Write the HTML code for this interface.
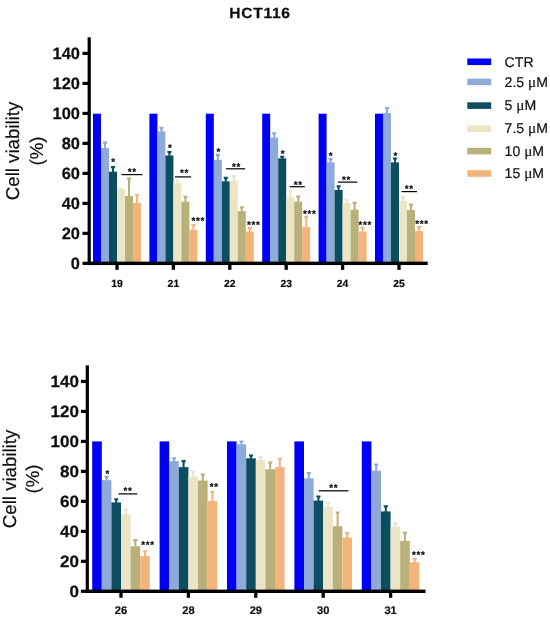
<!DOCTYPE html>
<html><head><meta charset="utf-8"><title>HCT116</title>
<style>
html,body{margin:0;padding:0;background:#fff;}
body{width:550px;height:619px;overflow:hidden;}
svg{display:block;font-family:"Liberation Sans",sans-serif;fill:#111;text-rendering:geometricPrecision;}
</style></head><body>
<svg width="550" height="619" viewBox="0 0 550 619">
<defs><filter id="soft" x="0" y="0" width="550" height="619" filterUnits="userSpaceOnUse"><feGaussianBlur stdDeviation="0.38"/></filter></defs>
<rect width="550" height="619" fill="#fff"/>
<g filter="url(#soft)">
<rect x="93.00" y="113.70" width="8.00" height="149.65" fill="#0600f7"/>
<path d="M104.00 148.54V144.42L102.90 142.92V141.62H107.10V142.92L106.00 144.42V148.54Z" fill="#8eaad9"/>
<rect x="101.00" y="148.04" width="8.00" height="115.31" fill="#8eaad9"/>
<path d="M112.00 172.13V168.90L110.90 167.40V166.10H115.10V167.40L114.00 168.90V172.13Z" fill="#0c4e60"/>
<rect x="109.00" y="171.63" width="8.00" height="91.72" fill="#0c4e60"/>
<path d="M120.00 189.74V190.85L118.90 189.35V188.05H123.10V189.35L122.00 190.85V189.74Z" fill="#ebe5c6"/>
<rect x="117.00" y="189.24" width="8.00" height="74.11" fill="#ebe5c6"/>
<path d="M128.00 196.46V180.40L126.90 178.90V177.60H131.10V178.90L130.00 180.40V196.46Z" fill="#bab07a"/>
<rect x="125.00" y="195.96" width="8.00" height="67.39" fill="#bab07a"/>
<path d="M136.00 203.48V196.82L134.90 195.32V194.02H139.10V195.32L138.00 196.82V203.48Z" fill="#f3b47c"/>
<rect x="133.00" y="202.98" width="8.00" height="60.37" fill="#f3b47c"/>
<rect x="115.35" y="263.35" width="3.3" height="6.5" fill="#000"/>
<text x="117.00" y="286.55" text-anchor="middle" font-size="10.4" font-weight="bold" stroke="#111" stroke-width="0.2">19</text>
<rect x="149.40" y="113.70" width="8.00" height="149.65" fill="#0600f7"/>
<path d="M160.40 131.82V129.64L159.30 128.14V126.84H163.50V128.14L162.40 129.64V131.82Z" fill="#8eaad9"/>
<rect x="157.40" y="131.32" width="8.00" height="132.03" fill="#8eaad9"/>
<path d="M168.40 156.00V153.82L167.30 152.32V151.02H171.50V152.32L170.40 153.82V156.00Z" fill="#0c4e60"/>
<rect x="165.40" y="155.50" width="8.00" height="107.85" fill="#0c4e60"/>
<path d="M176.40 183.47V182.34L175.30 180.84V179.54H179.50V180.84L178.40 182.34V183.47Z" fill="#ebe5c6"/>
<rect x="173.40" y="182.97" width="8.00" height="80.38" fill="#ebe5c6"/>
<path d="M184.40 202.14V198.46L183.30 196.96V195.66H187.50V196.96L186.40 198.46V202.14Z" fill="#bab07a"/>
<rect x="181.40" y="201.64" width="8.00" height="61.71" fill="#bab07a"/>
<path d="M192.40 230.35V226.68L191.30 225.18V223.88H195.50V225.18L194.40 226.68V230.35Z" fill="#f3b47c"/>
<rect x="189.40" y="229.85" width="8.00" height="33.50" fill="#f3b47c"/>
<rect x="171.75" y="263.35" width="3.3" height="6.5" fill="#000"/>
<text x="173.40" y="286.55" text-anchor="middle" font-size="10.4" font-weight="bold" stroke="#111" stroke-width="0.2">21</text>
<rect x="205.80" y="113.70" width="8.00" height="149.65" fill="#0600f7"/>
<path d="M216.80 160.33V156.66L215.70 155.16V153.86H219.90V155.16L218.80 156.66V160.33Z" fill="#8eaad9"/>
<rect x="213.80" y="159.83" width="8.00" height="103.52" fill="#8eaad9"/>
<path d="M224.80 181.83V179.65L223.70 178.15V176.85H227.90V178.15L226.80 179.65V181.83Z" fill="#0c4e60"/>
<rect x="221.80" y="181.33" width="8.00" height="82.02" fill="#0c4e60"/>
<path d="M232.80 181.38V177.71L231.70 176.21V174.91H235.90V176.21L234.80 177.71V181.38Z" fill="#ebe5c6"/>
<rect x="229.80" y="180.88" width="8.00" height="82.47" fill="#ebe5c6"/>
<path d="M240.80 211.69V209.06L239.70 207.56V206.26H243.90V207.56L242.80 209.06V211.69Z" fill="#bab07a"/>
<rect x="237.80" y="211.19" width="8.00" height="52.16" fill="#bab07a"/>
<path d="M248.80 232.00V229.82L247.70 228.32V227.02H251.90V228.32L250.80 229.82V232.00Z" fill="#f3b47c"/>
<rect x="245.80" y="231.50" width="8.00" height="31.85" fill="#f3b47c"/>
<rect x="228.15" y="263.35" width="3.3" height="6.5" fill="#000"/>
<text x="229.80" y="286.55" text-anchor="middle" font-size="10.4" font-weight="bold" stroke="#111" stroke-width="0.2">22</text>
<rect x="262.20" y="113.70" width="8.00" height="149.65" fill="#0600f7"/>
<path d="M273.20 138.09V135.01L272.10 133.51V132.21H276.30V133.51L275.20 135.01V138.09Z" fill="#8eaad9"/>
<rect x="270.20" y="137.59" width="8.00" height="125.76" fill="#8eaad9"/>
<path d="M281.20 158.84V158.45L280.10 156.95V155.65H284.30V156.95L283.20 158.45V158.84Z" fill="#0c4e60"/>
<rect x="278.20" y="158.34" width="8.00" height="105.01" fill="#0c4e60"/>
<path d="M289.20 197.66V192.19L288.10 190.69V189.39H292.30V190.69L291.20 192.19V197.66Z" fill="#ebe5c6"/>
<rect x="286.20" y="197.16" width="8.00" height="66.19" fill="#ebe5c6"/>
<path d="M297.20 202.14V198.31L296.10 196.81V195.51H300.30V196.81L299.20 198.31V202.14Z" fill="#bab07a"/>
<rect x="294.20" y="201.64" width="8.00" height="61.71" fill="#bab07a"/>
<path d="M305.20 227.67V218.62L304.10 217.12V215.82H308.30V217.12L307.20 218.62V227.67Z" fill="#f3b47c"/>
<rect x="302.20" y="227.17" width="8.00" height="36.18" fill="#f3b47c"/>
<rect x="284.55" y="263.35" width="3.3" height="6.5" fill="#000"/>
<text x="286.20" y="286.55" text-anchor="middle" font-size="10.4" font-weight="bold" stroke="#111" stroke-width="0.2">23</text>
<rect x="318.60" y="113.70" width="8.00" height="149.65" fill="#0600f7"/>
<path d="M329.60 162.87V160.69L328.50 159.19V157.89H332.70V159.19L331.60 160.69V162.87Z" fill="#8eaad9"/>
<rect x="326.60" y="162.37" width="8.00" height="100.98" fill="#8eaad9"/>
<path d="M337.60 190.49V188.01L336.50 186.51V185.21H340.70V186.51L339.60 188.01V190.49Z" fill="#0c4e60"/>
<rect x="334.60" y="189.99" width="8.00" height="73.36" fill="#0c4e60"/>
<path d="M345.60 203.63V201.45L344.50 199.95V198.65H348.70V199.95L347.60 201.45V203.63Z" fill="#ebe5c6"/>
<rect x="342.60" y="203.13" width="8.00" height="60.22" fill="#ebe5c6"/>
<path d="M353.60 210.20V204.44L352.50 202.94V201.64H356.70V202.94L355.60 204.44V210.20Z" fill="#bab07a"/>
<rect x="350.60" y="209.70" width="8.00" height="53.65" fill="#bab07a"/>
<path d="M361.60 232.00V229.52L360.50 228.02V226.72H364.70V228.02L363.60 229.52V232.00Z" fill="#f3b47c"/>
<rect x="358.60" y="231.50" width="8.00" height="31.85" fill="#f3b47c"/>
<rect x="340.95" y="263.35" width="3.3" height="6.5" fill="#000"/>
<text x="342.60" y="286.55" text-anchor="middle" font-size="10.4" font-weight="bold" stroke="#111" stroke-width="0.2">24</text>
<rect x="375.00" y="113.70" width="8.00" height="149.65" fill="#0600f7"/>
<path d="M386.00 113.45V109.78L384.90 108.28V106.98H389.10V108.28L388.00 109.78V113.45Z" fill="#8eaad9"/>
<rect x="383.00" y="112.95" width="8.00" height="150.40" fill="#8eaad9"/>
<path d="M394.00 162.87V160.24L392.90 158.74V157.44H397.10V158.74L396.00 160.24V162.87Z" fill="#0c4e60"/>
<rect x="391.00" y="162.37" width="8.00" height="100.98" fill="#0c4e60"/>
<path d="M402.00 201.54V198.91L400.90 197.41V196.11H405.10V197.41L404.00 198.91V201.54Z" fill="#ebe5c6"/>
<rect x="399.00" y="201.04" width="8.00" height="62.31" fill="#ebe5c6"/>
<path d="M410.00 210.50V206.23L408.90 204.73V203.43H413.10V204.73L412.00 206.23V210.50Z" fill="#bab07a"/>
<rect x="407.00" y="210.00" width="8.00" height="53.35" fill="#bab07a"/>
<path d="M418.00 231.55V228.92L416.90 227.42V226.12H421.10V227.42L420.00 228.92V231.55Z" fill="#f3b47c"/>
<rect x="415.00" y="231.05" width="8.00" height="32.30" fill="#f3b47c"/>
<rect x="397.35" y="263.35" width="3.3" height="6.5" fill="#000"/>
<text x="399.00" y="286.55" text-anchor="middle" font-size="10.4" font-weight="bold" stroke="#111" stroke-width="0.2">25</text>
<rect x="87.60" y="37.30" width="3.2" height="227.75" fill="#000"/>
<rect x="87.80" y="261.65" width="339.90" height="3.4" fill="#000"/>
<rect x="82.50" y="261.75" width="6.7" height="3.2" fill="#000"/>
<text transform="translate(79.90 268.75) scale(1.0 1)" text-anchor="end" font-size="16.4" font-weight="bold" stroke="#111" stroke-width="0.25">0</text>
<rect x="82.50" y="231.76" width="6.7" height="3.2" fill="#000"/>
<text transform="translate(79.90 238.76) scale(1.0 1)" text-anchor="end" font-size="16.4" font-weight="bold" stroke="#111" stroke-width="0.25">20</text>
<rect x="82.50" y="201.77" width="6.7" height="3.2" fill="#000"/>
<text transform="translate(79.90 208.77) scale(1.0 1)" text-anchor="end" font-size="16.4" font-weight="bold" stroke="#111" stroke-width="0.25">40</text>
<rect x="82.50" y="171.78" width="6.7" height="3.2" fill="#000"/>
<text transform="translate(79.90 178.78) scale(1.0 1)" text-anchor="end" font-size="16.4" font-weight="bold" stroke="#111" stroke-width="0.25">60</text>
<rect x="82.50" y="141.79" width="6.7" height="3.2" fill="#000"/>
<text transform="translate(79.90 148.79) scale(1.0 1)" text-anchor="end" font-size="16.4" font-weight="bold" stroke="#111" stroke-width="0.25">80</text>
<rect x="82.50" y="111.80" width="6.7" height="3.2" fill="#000"/>
<text transform="translate(79.90 118.80) scale(1.0 1)" text-anchor="end" font-size="16.4" font-weight="bold" stroke="#111" stroke-width="0.25">100</text>
<rect x="82.50" y="81.81" width="6.7" height="3.2" fill="#000"/>
<text transform="translate(79.90 88.81) scale(1.0 1)" text-anchor="end" font-size="16.4" font-weight="bold" stroke="#111" stroke-width="0.25">120</text>
<rect x="82.50" y="51.82" width="6.7" height="3.2" fill="#000"/>
<text transform="translate(79.90 58.82) scale(1.0 1)" text-anchor="end" font-size="16.4" font-weight="bold" stroke="#111" stroke-width="0.25">140</text>
<text transform="translate(18.5 150.97) rotate(-90)" text-anchor="middle" font-size="18.65" stroke="#111" stroke-width="0.2">Cell viability</text>
<text transform="translate(43.0 150.97) rotate(-90)" text-anchor="middle" font-size="18.65" stroke="#111" stroke-width="0.2">(%)</text>
<rect x="92.20" y="441.40" width="9.60" height="149.90" fill="#0600f7"/>
<path d="M105.60 480.65V478.61L104.50 477.11V475.81H108.70V477.11L107.60 478.61V480.65Z" fill="#8eaad9"/>
<rect x="101.80" y="480.15" width="9.60" height="111.15" fill="#8eaad9"/>
<path d="M115.20 502.94V501.05L114.10 499.55V498.25H118.30V499.55L117.20 501.05V502.94Z" fill="#0c4e60"/>
<rect x="111.40" y="502.44" width="9.60" height="88.86" fill="#0c4e60"/>
<path d="M124.80 514.46V511.67L123.70 510.17V508.87H127.90V510.17L126.80 511.67V514.46Z" fill="#ebe5c6"/>
<rect x="121.00" y="513.96" width="9.60" height="77.34" fill="#ebe5c6"/>
<path d="M134.40 546.77V541.89L133.30 540.39V539.09H137.50V540.39L136.40 541.89V546.77Z" fill="#bab07a"/>
<rect x="130.60" y="546.27" width="9.60" height="45.03" fill="#bab07a"/>
<path d="M144.00 556.64V552.96L142.90 551.46V550.16H147.10V551.46L146.00 552.96V556.64Z" fill="#f3b47c"/>
<rect x="140.20" y="556.14" width="9.60" height="35.16" fill="#f3b47c"/>
<rect x="119.35" y="591.30" width="3.3" height="6.5" fill="#000"/>
<text x="121.00" y="614.30" text-anchor="middle" font-size="11.1" font-weight="bold" stroke="#111" stroke-width="0.2">26</text>
<rect x="159.60" y="441.40" width="9.60" height="149.90" fill="#0600f7"/>
<path d="M173.00 461.65V460.06L171.90 458.56V457.26H176.10V458.56L175.00 460.06V461.65Z" fill="#8eaad9"/>
<rect x="169.20" y="461.15" width="9.60" height="130.15" fill="#8eaad9"/>
<path d="M182.60 467.63V462.90L181.50 461.40V460.10H185.70V461.40L184.60 462.90V467.63Z" fill="#0c4e60"/>
<rect x="178.80" y="467.13" width="9.60" height="124.17" fill="#0c4e60"/>
<path d="M192.20 477.06V473.37L191.10 471.87V470.57H195.30V471.87L194.20 473.37V477.06Z" fill="#ebe5c6"/>
<rect x="188.40" y="476.56" width="9.60" height="114.74" fill="#ebe5c6"/>
<path d="M201.80 481.10V476.36L200.70 474.86V473.56H204.90V474.86L203.80 476.36V481.10Z" fill="#bab07a"/>
<rect x="198.00" y="480.60" width="9.60" height="110.70" fill="#bab07a"/>
<path d="M211.40 501.44V493.87L210.30 492.37V491.07H214.50V492.37L213.40 493.87V501.44Z" fill="#f3b47c"/>
<rect x="207.60" y="500.94" width="9.60" height="90.36" fill="#f3b47c"/>
<rect x="186.75" y="591.30" width="3.3" height="6.5" fill="#000"/>
<text x="188.40" y="614.30" text-anchor="middle" font-size="11.1" font-weight="bold" stroke="#111" stroke-width="0.2">28</text>
<rect x="227.00" y="441.40" width="9.60" height="149.90" fill="#0600f7"/>
<path d="M240.40 444.74V443.30L239.30 441.80V440.50H243.50V441.80L242.40 443.30V444.74Z" fill="#8eaad9"/>
<rect x="236.60" y="444.24" width="9.60" height="147.06" fill="#8eaad9"/>
<path d="M250.00 458.80V457.36L248.90 455.86V454.56H253.10V455.86L252.00 457.36V458.80Z" fill="#0c4e60"/>
<rect x="246.20" y="458.30" width="9.60" height="133.00" fill="#0c4e60"/>
<path d="M259.60 460.60V459.01L258.50 457.51V456.21H262.70V457.51L261.60 459.01V460.60Z" fill="#ebe5c6"/>
<rect x="255.80" y="460.10" width="9.60" height="131.20" fill="#ebe5c6"/>
<path d="M269.20 469.73V464.40L268.10 462.90V461.60H272.30V462.90L271.20 464.40V469.73Z" fill="#bab07a"/>
<rect x="265.40" y="469.23" width="9.60" height="122.07" fill="#bab07a"/>
<path d="M278.80 467.63V460.51L277.70 459.01V457.71H281.90V459.01L280.80 460.51V467.63Z" fill="#f3b47c"/>
<rect x="275.00" y="467.13" width="9.60" height="124.17" fill="#f3b47c"/>
<rect x="254.15" y="591.30" width="3.3" height="6.5" fill="#000"/>
<text x="255.80" y="614.30" text-anchor="middle" font-size="11.1" font-weight="bold" stroke="#111" stroke-width="0.2">29</text>
<rect x="294.40" y="441.40" width="9.60" height="149.90" fill="#0600f7"/>
<path d="M307.80 478.85V474.87L306.70 473.37V472.07H310.90V473.37L309.80 474.87V478.85Z" fill="#8eaad9"/>
<rect x="304.00" y="478.35" width="9.60" height="112.95" fill="#8eaad9"/>
<path d="M317.40 501.14V498.36L316.30 496.86V495.56H320.50V496.86L319.40 498.36V501.14Z" fill="#0c4e60"/>
<rect x="313.60" y="500.64" width="9.60" height="90.66" fill="#0c4e60"/>
<path d="M327.00 507.57V504.34L325.90 502.84V501.54H330.10V502.84L329.00 504.34V507.57Z" fill="#ebe5c6"/>
<rect x="323.20" y="507.07" width="9.60" height="84.23" fill="#ebe5c6"/>
<path d="M336.60 526.72V514.21L335.50 512.71V511.41H339.70V512.71L338.60 514.21V526.72Z" fill="#bab07a"/>
<rect x="332.80" y="526.22" width="9.60" height="65.08" fill="#bab07a"/>
<path d="M346.20 538.09V534.86L345.10 533.36V532.06H349.30V533.36L348.20 534.86V538.09Z" fill="#f3b47c"/>
<rect x="342.40" y="537.59" width="9.60" height="53.71" fill="#f3b47c"/>
<rect x="321.55" y="591.30" width="3.3" height="6.5" fill="#000"/>
<text x="323.20" y="614.30" text-anchor="middle" font-size="11.1" font-weight="bold" stroke="#111" stroke-width="0.2">30</text>
<rect x="361.80" y="441.40" width="9.60" height="149.90" fill="#0600f7"/>
<path d="M375.20 471.22V466.19L374.10 464.69V463.39H378.30V464.69L377.20 466.19V471.22Z" fill="#8eaad9"/>
<rect x="371.40" y="470.72" width="9.60" height="120.58" fill="#8eaad9"/>
<path d="M384.80 511.91V508.08L383.70 506.58V505.28H387.90V506.58L386.80 508.08V511.91Z" fill="#0c4e60"/>
<rect x="381.00" y="511.41" width="9.60" height="79.89" fill="#0c4e60"/>
<path d="M394.40 527.17V525.13L393.30 523.63V522.33H397.50V523.63L396.40 525.13V527.17Z" fill="#ebe5c6"/>
<rect x="390.60" y="526.67" width="9.60" height="64.63" fill="#ebe5c6"/>
<path d="M404.00 541.38V534.56L402.90 533.06V531.76H407.10V533.06L406.00 534.56V541.38Z" fill="#bab07a"/>
<rect x="400.20" y="540.88" width="9.60" height="50.42" fill="#bab07a"/>
<path d="M413.60 562.78V560.74L412.50 559.24V557.94H416.70V559.24L415.60 560.74V562.78Z" fill="#f3b47c"/>
<rect x="409.80" y="562.28" width="9.60" height="29.02" fill="#f3b47c"/>
<rect x="388.95" y="591.30" width="3.3" height="6.5" fill="#000"/>
<text x="390.60" y="614.30" text-anchor="middle" font-size="11.1" font-weight="bold" stroke="#111" stroke-width="0.2">31</text>
<rect x="85.70" y="365.30" width="3.2" height="227.70" fill="#000"/>
<rect x="85.90" y="589.60" width="339.60" height="3.4" fill="#000"/>
<rect x="80.90" y="589.70" width="6.4" height="3.2" fill="#000"/>
<text transform="translate(78.90 596.70) scale(1.04 1)" text-anchor="end" font-size="16.4" font-weight="bold" stroke="#111" stroke-width="0.25">0</text>
<rect x="80.90" y="559.72" width="6.4" height="3.2" fill="#000"/>
<text transform="translate(78.90 566.72) scale(1.04 1)" text-anchor="end" font-size="16.4" font-weight="bold" stroke="#111" stroke-width="0.25">20</text>
<rect x="80.90" y="529.74" width="6.4" height="3.2" fill="#000"/>
<text transform="translate(78.90 536.74) scale(1.04 1)" text-anchor="end" font-size="16.4" font-weight="bold" stroke="#111" stroke-width="0.25">40</text>
<rect x="80.90" y="499.76" width="6.4" height="3.2" fill="#000"/>
<text transform="translate(78.90 506.76) scale(1.04 1)" text-anchor="end" font-size="16.4" font-weight="bold" stroke="#111" stroke-width="0.25">60</text>
<rect x="80.90" y="469.78" width="6.4" height="3.2" fill="#000"/>
<text transform="translate(78.90 476.78) scale(1.04 1)" text-anchor="end" font-size="16.4" font-weight="bold" stroke="#111" stroke-width="0.25">80</text>
<rect x="80.90" y="439.80" width="6.4" height="3.2" fill="#000"/>
<text transform="translate(78.90 446.80) scale(1.04 1)" text-anchor="end" font-size="16.4" font-weight="bold" stroke="#111" stroke-width="0.25">100</text>
<rect x="80.90" y="409.82" width="6.4" height="3.2" fill="#000"/>
<text transform="translate(78.90 416.82) scale(1.04 1)" text-anchor="end" font-size="16.4" font-weight="bold" stroke="#111" stroke-width="0.25">120</text>
<rect x="80.90" y="379.84" width="6.4" height="3.2" fill="#000"/>
<text transform="translate(78.90 386.84) scale(1.04 1)" text-anchor="end" font-size="16.4" font-weight="bold" stroke="#111" stroke-width="0.25">140</text>
<text transform="translate(16.2 478.95) rotate(-90)" text-anchor="middle" font-size="18.65" stroke="#111" stroke-width="0.2">Cell viability</text>
<text transform="translate(38.8 478.95) rotate(-90)" text-anchor="middle" font-size="18.65" stroke="#111" stroke-width="0.2">(%)</text>
<g transform="translate(260.0 17.5) scale(1.06 1)"><text x="0" y="0" text-anchor="middle" font-size="14.7" font-weight="bold" style="letter-spacing:0.7px" stroke="#111" stroke-width="0.25">HCT116</text></g>
<rect x="467.3" y="58.50" width="23.9" height="6.6" fill="#0600f7"/>
<text x="504.6" y="66.80" font-size="14.1" stroke="#111" stroke-width="0.2">CTR</text>
<rect x="467.3" y="78.60" width="23.9" height="6.6" fill="#8eaad9"/>
<text x="504.6" y="87.20" font-size="14.1" stroke="#111" stroke-width="0.2">2.5 <tspan font-family="'Liberation Serif',serif" font-size="15.2">μ</tspan>M</text>
<rect x="467.3" y="102.30" width="23.9" height="6.6" fill="#0c4e60"/>
<text x="504.6" y="109.70" font-size="14.1" stroke="#111" stroke-width="0.2">5 <tspan font-family="'Liberation Serif',serif" font-size="15.2">μ</tspan>M</text>
<rect x="467.3" y="125.40" width="23.9" height="6.6" fill="#ebe5c6"/>
<text x="504.6" y="133.20" font-size="14.1" stroke="#111" stroke-width="0.2">7.5 <tspan font-family="'Liberation Serif',serif" font-size="15.2">μ</tspan>M</text>
<rect x="467.3" y="147.80" width="23.9" height="6.6" fill="#bab07a"/>
<text x="504.6" y="155.60" font-size="14.1" stroke="#111" stroke-width="0.2">10 <tspan font-family="'Liberation Serif',serif" font-size="15.2">μ</tspan>M</text>
<rect x="467.3" y="170.20" width="23.9" height="6.6" fill="#f3b47c"/>
<text x="504.6" y="178.00" font-size="14.1" stroke="#111" stroke-width="0.2">15 <tspan font-family="'Liberation Serif',serif" font-size="15.2">μ</tspan>M</text>
<text x="113.55" y="165.30" text-anchor="middle" font-size="9.8" font-weight="bold" style="letter-spacing:0.7px" stroke="#111" stroke-width="0.22" stroke-linejoin="round">*</text>
<text x="132.15" y="174.70" text-anchor="middle" font-size="9.8" font-weight="bold" style="letter-spacing:0.7px" stroke="#111" stroke-width="0.22" stroke-linejoin="round">**</text>
<rect x="121.6" y="174.0" width="20.80" height="1.2" fill="#000"/>
<text x="170.25" y="151.30" text-anchor="middle" font-size="9.8" font-weight="bold" style="letter-spacing:0.7px" stroke="#111" stroke-width="0.22" stroke-linejoin="round">*</text>
<text x="184.45" y="176.20" text-anchor="middle" font-size="9.8" font-weight="bold" style="letter-spacing:0.7px" stroke="#111" stroke-width="0.22" stroke-linejoin="round">**</text>
<rect x="174.9" y="176.3" width="16.20" height="1.2" fill="#000"/>
<text x="198.15" y="223.70" text-anchor="middle" font-size="9.8" font-weight="bold" style="letter-spacing:0.7px" stroke="#111" stroke-width="0.22" stroke-linejoin="round">***</text>
<text x="218.85" y="155.40" text-anchor="middle" font-size="9.8" font-weight="bold" style="letter-spacing:0.7px" stroke="#111" stroke-width="0.22" stroke-linejoin="round">*</text>
<text x="236.54999999999998" y="170.00" text-anchor="middle" font-size="9.8" font-weight="bold" style="letter-spacing:0.7px" stroke="#111" stroke-width="0.22" stroke-linejoin="round">**</text>
<rect x="226" y="168.20000000000002" width="19.20" height="1.2" fill="#000"/>
<text x="253.85" y="228.10" text-anchor="middle" font-size="9.8" font-weight="bold" style="letter-spacing:0.7px" stroke="#111" stroke-width="0.22" stroke-linejoin="round">***</text>
<text x="283.05" y="157.40" text-anchor="middle" font-size="9.8" font-weight="bold" style="letter-spacing:0.7px" stroke="#111" stroke-width="0.22" stroke-linejoin="round">*</text>
<text x="298.15000000000003" y="187.70" text-anchor="middle" font-size="9.8" font-weight="bold" style="letter-spacing:0.7px" stroke="#111" stroke-width="0.22" stroke-linejoin="round">**</text>
<rect x="289.7" y="186.1" width="15.10" height="1.2" fill="#000"/>
<text x="309.65000000000003" y="216.50" text-anchor="middle" font-size="9.8" font-weight="bold" style="letter-spacing:0.7px" stroke="#111" stroke-width="0.22" stroke-linejoin="round">***</text>
<text x="331.05" y="158.70" text-anchor="middle" font-size="9.8" font-weight="bold" style="letter-spacing:0.7px" stroke="#111" stroke-width="0.22" stroke-linejoin="round">*</text>
<text x="346.55" y="183.10" text-anchor="middle" font-size="9.8" font-weight="bold" style="letter-spacing:0.7px" stroke="#111" stroke-width="0.22" stroke-linejoin="round">**</text>
<rect x="337.9" y="181.5" width="19.50" height="1.2" fill="#000"/>
<text x="365.35" y="227.90" text-anchor="middle" font-size="9.8" font-weight="bold" style="letter-spacing:0.7px" stroke="#111" stroke-width="0.22" stroke-linejoin="round">***</text>
<text x="395.75" y="158.70" text-anchor="middle" font-size="9.8" font-weight="bold" style="letter-spacing:0.7px" stroke="#111" stroke-width="0.22" stroke-linejoin="round">*</text>
<text x="409.35" y="192.30" text-anchor="middle" font-size="9.8" font-weight="bold" style="letter-spacing:0.7px" stroke="#111" stroke-width="0.22" stroke-linejoin="round">**</text>
<rect x="401.6" y="191.0" width="15.40" height="1.2" fill="#000"/>
<text x="421.95000000000005" y="226.90" text-anchor="middle" font-size="9.8" font-weight="bold" style="letter-spacing:0.7px" stroke="#111" stroke-width="0.22" stroke-linejoin="round">***</text>
<text x="107.64999999999999" y="476.60" text-anchor="middle" font-size="9.8" font-weight="bold" style="letter-spacing:0.7px" stroke="#111" stroke-width="0.22" stroke-linejoin="round">*</text>
<text x="127.94999999999999" y="493.60" text-anchor="middle" font-size="9.8" font-weight="bold" style="letter-spacing:0.7px" stroke="#111" stroke-width="0.22" stroke-linejoin="round">**</text>
<rect x="118.4" y="493.29999999999995" width="19.00" height="1.2" fill="#000"/>
<text x="147.95" y="547.50" text-anchor="middle" font-size="9.8" font-weight="bold" style="letter-spacing:0.7px" stroke="#111" stroke-width="0.22" stroke-linejoin="round">***</text>
<text x="214.35" y="489.90" text-anchor="middle" font-size="9.8" font-weight="bold" style="letter-spacing:0.7px" stroke="#111" stroke-width="0.22" stroke-linejoin="round">**</text>
<text x="333.65000000000003" y="490.90" text-anchor="middle" font-size="9.8" font-weight="bold" style="letter-spacing:0.7px" stroke="#111" stroke-width="0.22" stroke-linejoin="round">**</text>
<rect x="318.8" y="490.2" width="29.70" height="1.2" fill="#000"/>
<text x="418.85" y="558.10" text-anchor="middle" font-size="9.8" font-weight="bold" style="letter-spacing:0.7px" stroke="#111" stroke-width="0.22" stroke-linejoin="round">***</text>
</g>
</svg>
</body></html>
